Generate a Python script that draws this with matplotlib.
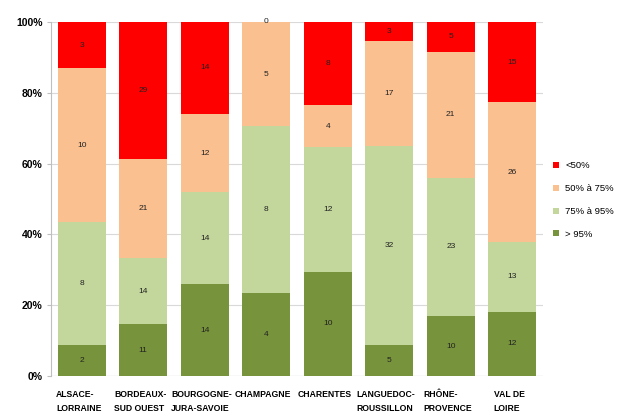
import matplotlib
matplotlib.use("Agg")
import matplotlib.pyplot as plt
import numpy as np

regions = ["ALSACE-\nLORRAINE", "BORDEAUX-\nSUD OUEST", "BOURGOGNE-\nJURA-SAVOIE", "CHAMPAGNE",
           "CHARENTES", "LANGUEDOC-\nROUSSILLON", "RHÔNE-\nPROVENCE", "VAL DE\nLOIRE"]
gt95 = [2, 11, 14, 4, 10, 5, 10, 12]
p75_95 = [8, 14, 14, 8, 12, 32, 23, 13]
p50_75 = [10, 21, 12, 5, 4, 17, 21, 26]
lt50 = [3, 29, 14, 0, 8, 3, 5, 15]
series_names = ["> 95%", "75% à 95%", "50% à 75%", "<50%"]
colors = ["#77933C", "#C3D69B", "#FAC090", "#FF0000"]

plt.rcParams['font.family'] = ['Liberation Sans', 'DejaVu Sans']

fig = plt.figure(figsize=(6.2, 4.17), dpi=100)
ax = fig.add_axes([51/620, 1-376/417, (543-51)/620, (376-22)/417])

series = [gt95, p75_95, p50_75, lt50]
data = np.array(series, dtype=float)
totals = data.sum(axis=0)
pct = data / totals
x = np.arange(len(regions))
bottom = np.zeros(len(regions))
bars = []
for vals, p, c, name in zip(series, pct, colors, series_names):
    b = ax.bar(x, p, width=0.78, bottom=bottom, color=c, label=name, zorder=2)
    bars.append(b)
    for xi, bt, h, v in zip(x, bottom, p, vals):
        ax.text(xi, bt + h/2, str(v), ha='center', va='center', fontsize=6, color='#222222', zorder=3)
    bottom = bottom + p

ax.set_xlim(-0.5, len(regions) - 0.5)
ax.set_ylim(0, 1)
ax.set_yticks(np.linspace(0, 1, 6))
ax.set_yticklabels([f"{int(v*100)}%" for v in np.linspace(0, 1, 6)], fontsize=7.5, fontweight='bold')
ax.yaxis.grid(True, color='#D9D9D9', linewidth=0.8, zorder=0)
ax.set_axisbelow(True)
for s in ['top', 'right', 'bottom']:
    ax.spines[s].set_visible(False)
ax.spines['left'].set_color('#BFBFBF')
ax.tick_params(axis='y', length=3, color='#BFBFBF', pad=3)
ax.set_xticks([])
ax.axhline(0, color='#BFBFBF', linewidth=0.8, zorder=1)

for xi, lab in zip(x, regions):
    ax.text(xi - 0.05, -0.04, lab, ha='center', va='top', multialignment='left', fontsize=6.2,
            fontweight='bold', transform=ax.transData, clip_on=False, linespacing=1.75)

handles = [bars[3], bars[2], bars[1], bars[0]]
leg = fig.legend(handles, [series_names[3], series_names[2], series_names[1], series_names[0]],
                 loc='center left', bbox_to_anchor=(553/620, 1-200/417), frameon=False,
                 fontsize=6.8, handlelength=0.6, handleheight=0.6, labelspacing=1.45, handletextpad=0.7,
                 borderaxespad=0, borderpad=0)

fig.savefig("out.png", dpi=100)
